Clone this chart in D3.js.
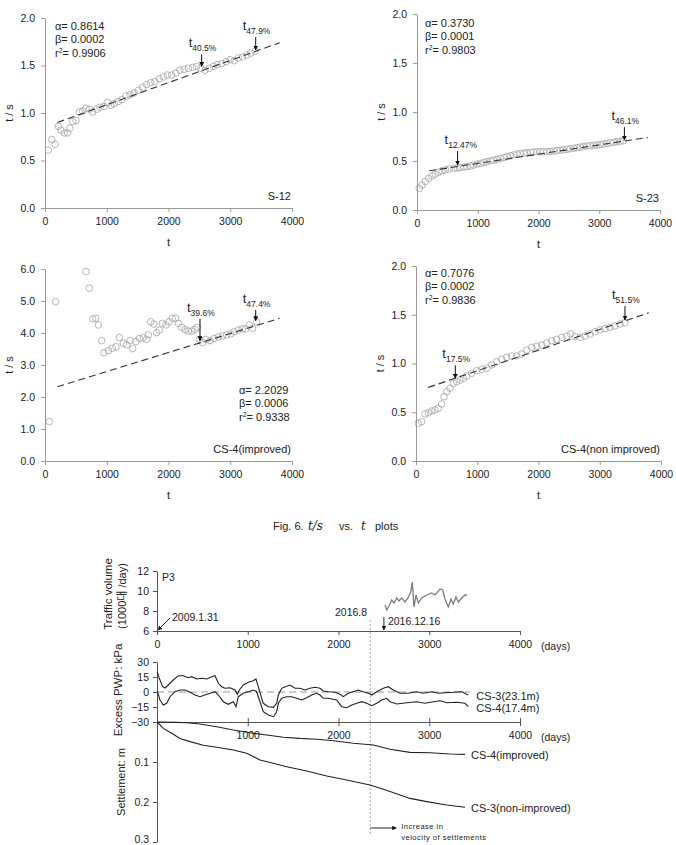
<!DOCTYPE html>
<html>
<head>
<meta charset="utf-8">
<script src="https://cdn.jsdelivr.net/npm/d3@7"></script>
<style>
  body { margin: 0; background: #fff; }
  svg text { font-family: "Liberation Sans", Arial, "Noto Sans CJK KR", sans-serif; fill: #222; }
</style>
</head>
<body>
<div id="chart"></div>
<script>
// ---------------- data: t/s vs t panels ----------------
var tTicks = [0, 1000, 2000, 3000, 4000];

var s12T = [54,108,162,216,259,313,367,405,448,502,556,610,664,718,772,837,890,955,1009,1069,1123,1187,1242,1312,1376,1441,1511,1582,1647,1711,1781,1851,1916,1981,2051,2121,2186,2251,2321,2391,2456,2526,2591,2661,2726,2791,2861,2931,2996,3066,3131,3201,3266,3331,3401];
var s12V = [0.61,0.72,0.67,0.86,0.82,0.79,0.79,0.84,0.91,0.92,1.01,1.02,1.05,1.04,1.01,1.04,1.06,1.07,1.11,1.08,1.10,1.12,1.14,1.18,1.19,1.21,1.24,1.27,1.30,1.32,1.33,1.36,1.38,1.40,1.40,1.42,1.45,1.46,1.47,1.48,1.49,1.47,1.45,1.47,1.49,1.51,1.52,1.54,1.56,1.55,1.58,1.59,1.61,1.63,1.65];
var s12Fit = [200, 0.90, 3800, 1.74];
var s12Params = [0.8614, 0.0002, 0.9906];
var s12Marks = [{t: 2537, v: 1.49, p: "40.5%"}, {t: 3412, v: 1.663, p: "47.9%"}];

var s23T = [38,82,137,192,247,300,355,411,470,530,603,660,712,770,822,880,931,990,1041,1100,1151,1210,1260,1316,1370,1430,1480,1540,1590,1645,1700,1760,1809,1870,1920,1974,2030,2080,2138,2190,2250,2303,2360,2410,2467,2520,2580,2632,2690,2740,2796,2850,2910,2961,3010,3070,3125,3180,3240,3289,3345,3398];
var s23V = [0.22,0.255,0.29,0.323,0.347,0.365,0.385,0.40,0.41,0.418,0.425,0.428,0.432,0.437,0.442,0.45,0.459,0.468,0.476,0.485,0.493,0.502,0.509,0.517,0.526,0.536,0.544,0.554,0.562,0.571,0.576,0.581,0.585,0.589,0.592,0.595,0.595,0.595,0.595,0.598,0.602,0.605,0.61,0.614,0.619,0.625,0.63,0.636,0.642,0.647,0.653,0.656,0.66,0.663,0.668,0.674,0.68,0.686,0.691,0.697,0.702,0.707];
var s23Fit = [200, 0.40, 3800, 0.74];
var s23Params = [0.3730, 0.0001, 0.9803];
var s23Marks = [{t: 668, v: 0.459, p: "12.47%"}, {t: 3414, v: 0.714, p: "46.1%"}];

var cs4iT = [70,173,664,718,772,821,864,918,955,1026,1090,1150,1204,1268,1323,1377,1420,1474,1527,1592,1647,1673,1711,1765,1808,1851,1900,1960,2008,2062,2116,2159,2213,2267,2321,2375,2429,2467,2499,2553,2607,2672,2737,2807,2877,2942,3007,3066,3131,3196,3250,3309,3363,3428];
var cs4iV = [1.23,4.98,5.92,5.40,4.44,4.46,4.25,3.76,3.38,3.45,3.52,3.57,3.86,3.68,3.63,3.76,3.51,3.73,3.83,3.85,3.80,3.94,4.35,4.28,4.01,4.09,4.30,4.25,4.35,4.46,4.46,4.30,4.18,4.11,4.06,4.06,4.11,4.18,3.80,3.70,3.80,3.76,3.83,3.88,3.91,3.94,3.97,4.04,4.09,4.13,4.13,4.25,4.15,4.35];
var cs4iFit = [200, 2.32, 3800, 4.46];
var cs4iParams = [2.2029, 0.0006, 0.9338];
var cs4iMarks = [{t: 2510, v: 3.76, p: "39.6%"}, {t: 3412, v: 4.38, p: "47.4%"}];

var cs4nT = [38,93,147,201,256,310,364,419,457,501,555,609,664,718,773,827,909,991,1073,1155,1236,1318,1400,1481,1563,1644,1726,1808,1889,1971,2053,2134,2216,2297,2379,2461,2526,2596,2678,2759,2841,2922,3004,3086,3167,3249,3331,3412];
var cs4nV = [0.387,0.403,0.482,0.495,0.513,0.523,0.540,0.585,0.660,0.711,0.746,0.797,0.813,0.831,0.848,0.872,0.899,0.926,0.941,0.951,0.985,1.018,1.043,1.064,1.077,1.077,1.097,1.138,1.166,1.179,1.19,1.213,1.234,1.248,1.268,1.282,1.303,1.275,1.268,1.282,1.303,1.326,1.344,1.357,1.371,1.385,1.405,1.418];
var cs4nFit = [200, 0.755, 3800, 1.52];
var cs4nParams = [0.7076, 0.0002, 0.9836];
var cs4nMarks = [{t: 642, v: 0.848, p: "17.5%"}, {t: 3412, v: 1.446, p: "51.5%"}];

// ---------------- data: P3 monitoring ----------------
var dayTicks = [0, 1000, 2000, 3000, 4000];
var trafficTicks = [6, 8, 10, 12];
var pwpTicks = [30, 15, 0, -15, -30];
var settleTicks = [0.1, 0.2, 0.3];

var trafficDays = [2513,2531,2557,2586,2612,2641,2667,2697,2733,2766,2796,2813,2832,2854,2880,2917,2972,3027,3064,3119,3148,3174,3210,3240,3265,3295,3320,3358,3394,3416];
var trafficVals = [8.6,8.1,8.5,9.1,8.8,9.3,9.0,9.3,8.9,9.3,9.9,10.9,8.4,9.6,8.8,9.3,9.6,9.8,9.6,10.2,10.1,9.2,8.4,9.2,8.7,9.4,8.9,9.3,9.6,9.6];

var pwpCS3 = [[3,20.3],[25,13.7],[63,5.3],[88,4],[125,7],[180,12],[235,16.3],[290,16.3],[345,14.3],[382,15.3],[437,13],[493,13.7],[548,13],[603,15.3],[639,16.3],[676,8.7],[713,5.3],[749,3.7],[804,4.3],[860,2],[885,-2.3],[907,2],[951,7],[1006,9.7],[1061,11.3],[1091,13],[1116,5.3],[1154,-6.3],[1171,-11.3],[1227,-14.7],[1282,-15.3],[1319,-11.3],[1337,-3],[1374,3.7],[1411,5.3],[1466,7],[1521,3.7],[1576,3.7],[1631,2],[1686,3.7],[1741,4.7],[1796,3.7],[1833,1],[1888,0.3],[1962,-0.3],[2017,-2.3],[2053,-4.7],[2108,-1.3],[2163,0.3],[2218,2],[2273,0.3],[2329,-1.3],[2366,-3],[2421,0.3],[2494,3.7],[2549,5.3],[2604,2],[2678,-1.3],[2769,-1.3],[2862,0.3],[2935,-1.3],[3027,0.3],[3100,-1.3],[3174,-0.7],[3265,-0.3],[3358,0.3],[3431,-3]];
var pwpCS4 = [[3,1],[33,-8],[69,-13],[107,-11.3],[143,-4.7],[198,0.3],[253,2],[309,2],[364,-0.3],[419,-3],[474,-4.7],[529,-3],[584,-1.3],[639,0.3],[676,-3],[731,-9.7],[786,-12.3],[841,-9.7],[871,-14.7],[896,-4.7],[951,-1.3],[1006,0.3],[1061,2],[1098,0.3],[1135,-9.7],[1171,-19.7],[1227,-23],[1282,-24.7],[1319,-19.7],[1337,-11.3],[1374,-6.3],[1429,-4.7],[1484,-4.7],[1540,-6.3],[1595,-8],[1650,-5.7],[1705,-3],[1760,-1.3],[1796,-3],[1833,-6.3],[1888,-6.3],[1980,-8],[2035,-14.7],[2090,-15.7],[2146,-13],[2201,-11.3],[2256,-9.7],[2311,-11.3],[2366,-13.7],[2421,-11.3],[2476,-8],[2531,-6.3],[2568,-9.7],[2642,-12],[2752,-10.7],[2862,-9.7],[2953,-11.3],[3045,-9.7],[3119,-8.7],[3192,-10.7],[3303,-10.3],[3394,-11.3],[3431,-14.7]];

var settleCS3 = [[3,0],[69,0.016],[162,0.028],[253,0.041],[364,0.049],[510,0.058],[658,0.063],[841,0.07],[988,0.078],[1135,0.095],[1282,0.103],[1429,0.112],[1650,0.1225],[1870,0.135],[2090,0.145],[2347,0.1575],[2568,0.174],[2788,0.191],[2972,0.199],[3192,0.2075],[3394,0.213]];
var settleCS4 = [[3,0],[217,0.001],[327,0.002],[474,0.005],[658,0.012],[841,0.02],[1025,0.027],[1209,0.0325],[1392,0.038],[1576,0.041],[1760,0.043],[1943,0.047],[2163,0.053],[2384,0.0575],[2568,0.068],[2788,0.076],[3009,0.077],[3229,0.08],[3394,0.081]];

var eventDay = 2350;      // 2016.8
var trafficStartDay = 2500; // 2016.12.16

// ---------------- svg ----------------
var svg = d3.select("#chart").append("svg")
  .attr("width", 676)
  .attr("height", 845);

svg.append("defs").append("marker")
  .attr("id", "ah")
  .attr("viewBox", "0 0 10 10")
  .attr("refX", 9).attr("refY", 5)
  .attr("markerWidth", 5).attr("markerHeight", 5)
  .attr("orient", "auto")
  .append("path").attr("d", "M0,0L10,5L0,10z").attr("fill", "#111");

function styleAxis(sel, col, fs) {
  sel.select(".domain").attr("stroke", col);
  sel.selectAll(".tick line").attr("stroke", col);
  sel.selectAll(".tick text").attr("font-size", fs).attr("fill", "#333")
    .attr("font-family", "Liberation Sans, Arial, sans-serif");
}

var intFmt = d3.format("d");

var panels = [
  {left: 45, right: 292, top: 18, bottom: 208, ymax: 2, yTicks: [0, 0.5, 1, 1.5, 2],
   t: s12T, v: s12V, fit: s12Fit, params: s12Params, marks: s12Marks, arrowLen: [12, 13],
   name: "S-12", paramX: 55, paramY: 30},
  {left: 417, right: 660, top: 14, bottom: 210, ymax: 2, yTicks: [0, 0.5, 1, 1.5, 2],
   t: s23T, v: s23V, fit: s23Fit, params: s23Params, marks: s23Marks, arrowLen: [14, 13],
   name: "S-23", paramX: 425, paramY: 27},
  {left: 45, right: 292, top: 269, bottom: 461, ymax: 6, yTicks: [0, 1, 2, 3, 4, 5, 6],
   t: cs4iT, v: cs4iV, fit: cs4iFit, params: cs4iParams, marks: cs4iMarks, arrowLen: [22, 11],
   name: "CS-4(improved)", paramX: 239, paramY: 394},
  {left: 416, right: 661, top: 266, bottom: 461, ymax: 2, yTicks: [0, 0.5, 1, 1.5, 2],
   t: cs4nT, v: cs4nV, fit: cs4nFit, params: cs4nParams, marks: cs4nMarks, arrowLen: [13, 14],
   name: "CS-4(non improved)", paramX: 425, paramY: 277}
];

panels.forEach(function(p) {
  var x = d3.scaleLinear().domain([0, 4000]).range([p.left, p.right]);
  var y = d3.scaleLinear().domain([0, p.ymax]).range([p.bottom, p.top]);
  var g = svg.append("g");

  var xAx = g.append("g")
    .attr("transform", "translate(0," + p.bottom + ")")
    .call(d3.axisBottom(x).tickValues(tTicks).tickFormat(intFmt).tickSize(4).tickPadding(6).tickSizeOuter(0));
  styleAxis(xAx, "#9a9a9a", "10.5px");

  var yAx = g.append("g")
    .attr("transform", "translate(" + p.left + ",0)")
    .call(d3.axisLeft(y).tickValues(p.yTicks).tickFormat(d3.format(".1f")).tickSize(4).tickPadding(6).tickSizeOuter(0));
  styleAxis(yAx, "#9a9a9a", "10.5px");

  // axis titles
  g.append("text")
    .text("t / s")
    .attr("transform", "translate(" + (p.left - 32) + "," + ((p.top + p.bottom) / 2) + ") rotate(-90)")
    .attr("text-anchor", "middle")
    .attr("font-size", "11px");
  g.append("text")
    .text("t")
    .attr("x", (p.left + p.right) / 2)
    .attr("y", p.bottom + 38)
    .attr("text-anchor", "middle")
    .attr("font-size", "11px");

  // points
  g.selectAll("circle")
    .data(p.t)
    .enter()
    .append("circle")
      .attr("cx", function(d) { return x(d); })
      .attr("cy", function(d, i) { return y(p.v[i]); })
      .attr("r", 3.3)
      .attr("fill", "none")
      .attr("stroke", "#a5a5a5")
      .attr("stroke-width", 0.8);

  // fitted line
  g.append("line")
    .attr("x1", x(p.fit[0])).attr("y1", y(p.fit[1]))
    .attr("x2", x(p.fit[2])).attr("y2", y(p.fit[3]))
    .attr("stroke", "#333")
    .attr("stroke-width", 1.1)
    .attr("stroke-dasharray", "7,4");

  // alpha, beta, r2
  var f4 = d3.format(".4f");
  g.append("text").attr("x", p.paramX).attr("y", p.paramY).attr("font-size", "11px")
    .text("\u03B1= " + f4(p.params[0]));
  g.append("text").attr("x", p.paramX).attr("y", p.paramY + 13.3).attr("font-size", "11px")
    .text("\u03B2= " + f4(p.params[1]));
  var r2 = g.append("text").attr("x", p.paramX).attr("y", p.paramY + 26.6).attr("font-size", "11px");
  r2.append("tspan").text("r");
  r2.append("tspan").text("2").attr("font-size", "7px").attr("dy", -4);
  r2.append("tspan").text("= " + f4(p.params[2])).attr("dy", 4);

  // t_xx% markers
  p.marks.forEach(function(m, i) {
    var ax = x(m.t), tip = y(m.v), top = tip - p.arrowLen[i];
    g.append("line")
      .attr("x1", ax).attr("y1", top)
      .attr("x2", ax).attr("y2", tip)
      .attr("stroke", "#111").attr("stroke-width", 1)
      .attr("marker-end", "url(#ah)");
    var lab = g.append("text").attr("x", ax - 13).attr("y", top - 7).attr("font-size", "13px");
    lab.append("tspan").text("t");
    lab.append("tspan").text(m.p).attr("font-size", "8.5px").attr("dy", 4);
  });

  // name
  g.append("text")
    .text(p.name)
    .attr("x", p.right - 1)
    .attr("y", p.bottom - 8)
    .attr("text-anchor", "end")
    .attr("font-size", "11px");
});

// caption
var cap = svg.append("text").attr("y", 529.5).attr("font-size", "11px").attr("fill", "#222");
cap.append("tspan").attr("x", 273).text("Fig. 6.");
cap.append("tspan").attr("x", 308).text("t/s").attr("font-size", "12px")
  .attr("font-family", "DejaVu Serif, Liberation Serif, serif").attr("font-style", "italic");
cap.append("tspan").attr("x", 339).text("vs.");
cap.append("tspan").attr("x", 361).text("t").attr("font-size", "12px")
  .attr("font-family", "DejaVu Serif, Liberation Serif, serif").attr("font-style", "italic");
cap.append("tspan").attr("x", 375).text("plots");

// ---------------- P3 chart ----------------
var xDay = d3.scaleLinear().domain([0, 4000]).range([157, 520]);
var yTr = d3.scaleLinear().domain([6, 12]).range([631, 571]);
var yPw = d3.scaleLinear().domain([-30, 30]).range([722, 662]);
var ySt = d3.scaleLinear().domain([0, 0.3]).range([722, 842]);

var axCol = "#555";
var bottom = svg.append("g");

var trX = bottom.append("g").attr("transform", "translate(0,631)")
  .call(d3.axisBottom(xDay).tickValues(dayTicks).tickFormat(intFmt).tickSize(4).tickPadding(6).tickSizeOuter(0));
styleAxis(trX, axCol, "10.5px");
var trY = bottom.append("g").attr("transform", "translate(157,0)")
  .call(d3.axisLeft(yTr).tickValues(trafficTicks).tickFormat(intFmt).tickSize(4).tickPadding(4).tickSizeOuter(0));
styleAxis(trY, axCol, "10.5px");

var pwX = bottom.append("g").attr("transform", "translate(0,722)")
  .call(d3.axisBottom(xDay).tickValues(dayTicks.slice(1)).tickFormat(intFmt).tickSize(4).tickPadding(6).tickSizeOuter(0));
styleAxis(pwX, axCol, "10.5px");
pwX.selectAll(".tick line").attr("y1", -4);
var pwY = bottom.append("g").attr("transform", "translate(157,0)")
  .call(d3.axisLeft(yPw).tickValues(pwpTicks).tickFormat(intFmt).tickSize(4).tickPadding(4).tickSizeOuter(0));
styleAxis(pwY, axCol, "10.5px");

var stY = bottom.append("g").attr("transform", "translate(157,0)")
  .call(d3.axisLeft(ySt).tickValues(settleTicks).tickFormat(d3.format(".1f")).tickSize(4).tickPadding(4).tickSizeOuter(0));
styleAxis(stY, axCol, "10.5px");
// last label sits on the page edge: lift it so it stays readable
stY.selectAll(".tick text").filter(function(d) { return d === 0.3; }).attr("dy", "0em");

// (days)
[650, 741].forEach(function(yy) {
  bottom.append("text").text("(days)").attr("x", 541).attr("y", yy).attr("font-size", "10.5px");
});

// axis titles
bottom.append("text").text("Traffic volume")
  .attr("transform", "translate(112,594) rotate(-90)")
  .attr("text-anchor", "middle").attr("font-size", "11.5px").attr("fill", "#444");
bottom.append("text").text("(1000\uB300 /day)")
  .attr("transform", "translate(126,596) rotate(-90)")
  .attr("text-anchor", "middle").attr("font-size", "11px").attr("fill", "#444");
bottom.append("text").text("Excess PWP: kPa")
  .attr("transform", "translate(122,690) rotate(-90)")
  .attr("text-anchor", "middle").attr("font-size", "11.5px").attr("fill", "#444");
bottom.append("text").text("Settlement: m")
  .attr("transform", "translate(125,782) rotate(-90)")
  .attr("text-anchor", "middle").attr("font-size", "11px").attr("fill", "#444");

// reference lines
bottom.append("line")
  .attr("x1", xDay(eventDay)).attr("x2", xDay(eventDay))
  .attr("y1", 620).attr("y2", 835)
  .attr("stroke", "#aaa").attr("stroke-width", 1).attr("stroke-dasharray", "2,2");
bottom.append("line")
  .attr("x1", xDay(0)).attr("x2", xDay(3450))
  .attr("y1", yPw(0)).attr("y2", yPw(0))
  .attr("stroke", "#999").attr("stroke-width", 1.2).attr("stroke-dasharray", "7,4");

// traffic line
var trafficData = trafficDays.map(function(d, i) { return [d, trafficVals[i]]; });
bottom.append("path")
  .datum(trafficData)
  .attr("d", d3.line().x(function(d) { return xDay(d[0]); }).y(function(d) { return yTr(d[1]); }))
  .attr("fill", "none").attr("stroke", "#7c7c7c").attr("stroke-width", 1.3);

// pwp lines
var pwLine = d3.line().x(function(d) { return xDay(d[0]); }).y(function(d) { return yPw(d[1]); });
[[pwpCS3, "CS-3(23.1m)"], [pwpCS4, "CS-4(17.4m)"]].forEach(function(s) {
  bottom.append("path").datum(s[0]).attr("d", pwLine)
    .attr("fill", "none").attr("stroke", "#222").attr("stroke-width", 1.1);
  var last = s[0][s[0].length - 1];
  bottom.append("text").text(s[1])
    .attr("x", xDay(last[0]) + 8).attr("y", yPw(last[1]) + 5)
    .attr("font-size", "11px");
});

// settlement lines
var stLine = d3.line().x(function(d) { return xDay(d[0]); }).y(function(d) { return ySt(d[1]); });
[[settleCS4, "CS-4(improved)"], [settleCS3, "CS-3(non-improved)"]].forEach(function(s) {
  bottom.append("path").datum(s[0]).attr("d", stLine)
    .attr("fill", "none").attr("stroke", "#222").attr("stroke-width", 1.1);
  var last = s[0][s[0].length - 1];
  bottom.append("text").text(s[1])
    .attr("x", xDay(last[0]) + 6).attr("y", ySt(last[1]) + 5)
    .attr("font-size", "11px");
});

// annotations
bottom.append("text").text("P3").attr("x", 162).attr("y", 581).attr("font-size", "10.5px");
bottom.append("line")
  .attr("x1", 170).attr("y1", 618).attr("x2", 158).attr("y2", 630)
  .attr("stroke", "#111").attr("stroke-width", 0.9).attr("marker-end", "url(#ah)");
bottom.append("text").text("2009.1.31").attr("x", 172).attr("y", 621).attr("font-size", "10.5px");
bottom.append("text").text("2016.8").attr("x", 335).attr("y", 616).attr("font-size", "10.5px");
bottom.append("line")
  .attr("x1", xDay(trafficStartDay)).attr("x2", xDay(trafficStartDay))
  .attr("y1", 617).attr("y2", 630)
  .attr("stroke", "#111").attr("stroke-width", 0.9).attr("marker-end", "url(#ah)");
bottom.append("text").text("2016.12.16").attr("x", xDay(trafficStartDay) + 4).attr("y", 625).attr("font-size", "10.5px");

bottom.append("line")
  .attr("x1", xDay(eventDay)).attr("x2", xDay(eventDay) + 26)
  .attr("y1", 828).attr("y2", 828)
  .attr("stroke", "#111").attr("stroke-width", 0.9).attr("marker-end", "url(#ah)");
bottom.append("text").text("Increase in")
  .attr("x", xDay(eventDay) + 31).attr("y", 829)
  .attr("font-size", "7.5px").attr("letter-spacing", "0.5px");
bottom.append("text").text("velocity of settlements")
  .attr("x", xDay(eventDay) + 31).attr("y", 839.5)
  .attr("font-size", "7.5px").attr("letter-spacing", "0.5px");
</script>
</body>
</html>
